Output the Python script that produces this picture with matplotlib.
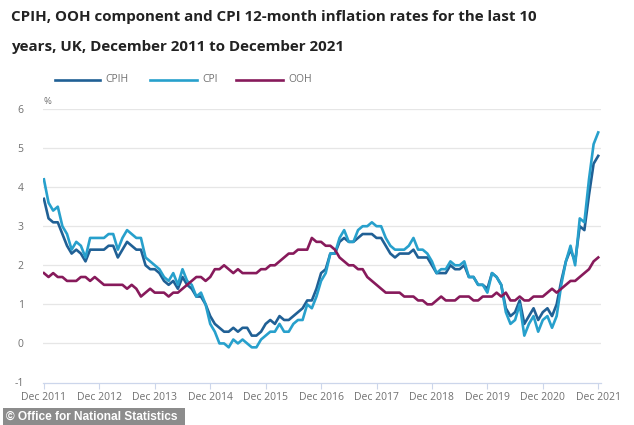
import matplotlib
matplotlib.use("Agg")
import matplotlib.pyplot as plt
from matplotlib.lines import Line2D
import numpy as np

# monthly 12-month rates, Dec 2011 .. Dec 2021
cpih = [3.7,
        3.2, 3.1, 3.1, 2.8, 2.5, 2.3, 2.4, 2.3, 2.1, 2.4, 2.4, 2.4,
        2.4, 2.5, 2.5, 2.2, 2.4, 2.6, 2.5, 2.4, 2.4, 2.0, 1.9, 1.9,
        1.8, 1.6, 1.5, 1.6, 1.4, 1.7, 1.5, 1.4, 1.2, 1.2, 1.0, 0.7,
        0.5, 0.4, 0.3, 0.3, 0.4, 0.3, 0.4, 0.4, 0.2, 0.2, 0.3, 0.5,
        0.6, 0.5, 0.7, 0.6, 0.6, 0.7, 0.8, 0.9, 1.1, 1.1, 1.4, 1.8,
        1.9, 2.3, 2.3, 2.6, 2.7, 2.6, 2.6, 2.7, 2.8, 2.8, 2.8, 2.7,
        2.7, 2.5, 2.3, 2.2, 2.3, 2.3, 2.3, 2.4, 2.2, 2.2, 2.2, 2.0,
        1.8, 1.8, 1.8, 2.0, 1.9, 1.9, 2.0, 1.7, 1.7, 1.5, 1.5, 1.4,
        1.8, 1.7, 1.5, 0.9, 0.7, 0.8, 1.1, 0.5, 0.7, 0.9, 0.6, 0.8,
        0.9, 0.7, 1.0, 1.6, 2.1, 2.4, 2.1, 3.0, 2.9, 3.8, 4.6, 4.8]

cpi = [4.2,
       3.6, 3.4, 3.5, 3.0, 2.8, 2.4, 2.6, 2.5, 2.2, 2.7, 2.7, 2.7,
       2.7, 2.8, 2.8, 2.4, 2.7, 2.9, 2.8, 2.7, 2.7, 2.2, 2.1, 2.0,
       1.9, 1.7, 1.6, 1.8, 1.5, 1.9, 1.6, 1.5, 1.2, 1.3, 1.0, 0.5,
       0.3, 0.0, 0.0, -0.1, 0.1, 0.0, 0.1, 0.0, -0.1, -0.1, 0.1, 0.2,
       0.3, 0.3, 0.5, 0.3, 0.3, 0.5, 0.6, 0.6, 1.0, 0.9, 1.2, 1.6,
       1.8, 2.3, 2.3, 2.7, 2.9, 2.6, 2.6, 2.9, 3.0, 3.0, 3.1, 3.0,
       3.0, 2.7, 2.5, 2.4, 2.4, 2.4, 2.5, 2.7, 2.4, 2.4, 2.3, 2.1,
       1.8, 1.9, 1.9, 2.1, 2.0, 2.0, 2.1, 1.7, 1.7, 1.5, 1.5, 1.3,
       1.8, 1.7, 1.5, 0.8, 0.5, 0.6, 1.0, 0.2, 0.5, 0.7, 0.3, 0.6,
       0.7, 0.4, 0.7, 1.5, 2.1, 2.5, 2.0, 3.2, 3.1, 4.2, 5.1, 5.4]

ooh = [1.8,
       1.7, 1.8, 1.7, 1.7, 1.6, 1.6, 1.6, 1.7, 1.7, 1.6, 1.7, 1.6,
       1.5, 1.5, 1.5, 1.5, 1.5, 1.4, 1.5, 1.4, 1.2, 1.3, 1.4, 1.3,
       1.3, 1.3, 1.2, 1.3, 1.3, 1.4, 1.5, 1.6, 1.7, 1.7, 1.6, 1.7,
       1.9, 1.9, 2.0, 1.9, 1.8, 1.9, 1.8, 1.8, 1.8, 1.8, 1.9, 1.9,
       2.0, 2.0, 2.1, 2.2, 2.3, 2.3, 2.4, 2.4, 2.4, 2.7, 2.6, 2.6,
       2.5, 2.5, 2.4, 2.2, 2.1, 2.0, 2.0, 1.9, 1.9, 1.7, 1.6, 1.5,
       1.4, 1.3, 1.3, 1.3, 1.3, 1.2, 1.2, 1.2, 1.1, 1.1, 1.0, 1.0,
       1.1, 1.2, 1.1, 1.1, 1.1, 1.2, 1.2, 1.2, 1.1, 1.1, 1.2, 1.2,
       1.2, 1.3, 1.2, 1.3, 1.1, 1.1, 1.2, 1.1, 1.1, 1.2, 1.2, 1.2,
       1.3, 1.4, 1.3, 1.4, 1.5, 1.6, 1.6, 1.7, 1.8, 1.9, 2.1, 2.2]

tick_labels = ["Dec 2011", "Dec 2012", "Dec 2013", "Dec 2014", "Dec 2015", "Dec 2016",
               "Dec 2017", "Dec 2018", "Dec 2019", "Dec 2020", "Dec 2021"]
y_ticks = [-1, 0, 1, 2, 3, 4, 5, 6]

C_CPIH = "#206095"
C_CPI = "#27a0cc"
C_OOH = "#871a5b"
GREY = "#707070"

plt.rcParams['font.family'] = ['Open Sans', 'DejaVu Sans']

W, H = 634, 425
fig = plt.figure(figsize=(W / 100, H / 100), dpi=100)
ax = fig.add_axes([43/W, 1 - 382.5/H, (601 - 43)/W, (382.5 - 109)/H])

months = np.arange(len(cpih))
ax.plot(months, cpih, color=C_CPIH, lw=1.9, solid_joinstyle='round')
ax.plot(months, cpi, color=C_CPI, lw=1.9, solid_joinstyle='round')
ax.plot(np.arange(len(ooh)), ooh, color=C_OOH, lw=1.9, solid_joinstyle='round')

ax.set_xlim(-0.2, 120.6)
ax.set_ylim(-1, 6)
ax.set_yticks(y_ticks)
ax.set_yticklabels([str(v) for v in y_ticks])
ax.set_xticks(np.arange(0, 121, 12))
ax.set_xticklabels(tick_labels)

for v in y_ticks[1:]:
    ax.axhline(v, color="#e6e6e6", lw=0.9, zorder=0)
for s in ["top", "right", "left"]:
    ax.spines[s].set_visible(False)
ax.spines["bottom"].set_color("#ccd6eb")
ax.spines["bottom"].set_linewidth(0.9)
ax.tick_params(axis="x", colors="#ccd6eb", length=4, width=0.8, pad=3, labelsize=7.5, labelcolor=GREY)
ax.tick_params(axis="y", length=0, pad=14, labelsize=7.5, labelcolor=GREY)

ax.text(-0.1, 6.08, "%", fontsize=6.8, color=GREY, va="bottom", ha="left")

# legend drawn by hand to match the spacing
legend_items = [("CPIH", C_CPIH, 55, 100, 105), ("CPI", C_CPI, 150, 197, 202), ("OOH", C_OOH, 236, 283, 288)]
for name, col, x0, x1, xt in legend_items:
    fig.add_artist(Line2D([x0/W, x1/W], [1 - 80/H, 1 - 80/H], color=col, lw=1.9,
                          transform=fig.transFigure))
    fig.text(xt/W, 1 - 80/H, name, fontsize=7.5, color=GREY, va="center", ha="left")

fig.text(11/W, 1 - 17.5/H, "CPIH, OOH component and CPI 12-month inflation rates for the last 10",
         fontsize=10.9, fontweight="bold", color="#222222", va="center", ha="left")
fig.text(11/W, 1 - 47/H, "years, UK, December 2011 to December 2021",
         fontsize=10.9, fontweight="bold", color="#222222", va="center", ha="left")

fig.patches.append(plt.Rectangle((3/W, 0), 182/W, 17/H, transform=fig.transFigure,
                                 facecolor="#8c8c8c", edgecolor="none"))
fig.text(6/W, 8/H, "\u00a9 Office for National Statistics", fontsize=8.6, fontweight="bold",
         color="white", va="center", ha="left",
         family=["Liberation Sans Narrow", "Liberation Sans", "DejaVu Sans"])

fig.savefig("out.png", dpi=100)
